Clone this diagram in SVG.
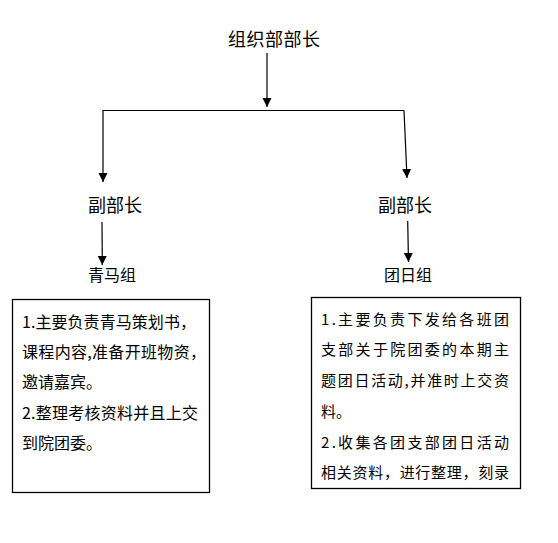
<svg xmlns="http://www.w3.org/2000/svg" width="558" height="543" viewBox="0 0 558 543">
<style>
.t{font-family:"Noto Sans CJK SC","Liberation Sans",sans-serif;fill:#000}
.h{font-size:18px}
.g{font-size:16px}
.b{font-size:16px}
.r{font-size:15px}
.box{fill:#fff;stroke:#000;stroke-width:1.3}
.c{stroke:#000;stroke-width:1.2;fill:none}
</style>
<defs>
<marker id="ah" markerUnits="userSpaceOnUse" markerWidth="10" markerHeight="10" refX="9" refY="4.5" orient="auto">
<path d="M0,0 L9,4.5 L0,9 z" fill="#000"/>
</marker>
</defs>
<rect width="558" height="543" fill="#fff"/>
<g id="connectors">
<line class="c" x1="267" y1="53" x2="267" y2="107" marker-end="url(#ah)"/>
<polyline class="c" points="404,110.5 103,110.5 103,182" marker-end="url(#ah)"/>
<line class="c" x1="404" y1="110.5" x2="407" y2="178" marker-end="url(#ah)"/>
<line class="c" x1="102" y1="222" x2="102.3" y2="265" marker-end="url(#ah)"/>
<line class="c" x1="407.7" y1="221" x2="408.5" y2="262" marker-end="url(#ah)"/>
</g>
<g id="n_head"><text class="t h" x="228" y="46" textLength="92">组织部部长</text></g>
<g id="n_vice1"><text class="t h" x="88" y="212">副部长</text></g>
<g id="n_vice2"><text class="t h" x="378" y="212">副部长</text></g>
<g id="n_qm"><text class="t g" x="88" y="281">青马组</text></g>
<g id="n_tr"><text class="t g" x="384" y="281">团日组</text></g>
<g id="n_box1">
<rect class="box" x="12.5" y="299.5" width="197" height="193"/>
<text class="t b" x="22" y="328" textLength="174" lengthAdjust="spacing">1.主要负责青马策划书，</text>
<text class="t b" x="22" y="358" textLength="184" lengthAdjust="spacing">课程内容,准备开班物资，</text>
<text class="t b" x="22" y="388">邀请嘉宾。</text>
<text class="t b" x="22" y="419" textLength="176" lengthAdjust="spacing">2.整理考核资料并且上交</text>
<text class="t b" x="22" y="449">到院团委。</text>
</g>
<g id="n_box2">
<rect class="box" x="311.5" y="297.5" width="209" height="191"/>
<text class="t r" x="321" y="325" textLength="188" lengthAdjust="spacing">1.主要负责下发给各班团</text>
<text class="t r" x="321" y="355" textLength="188" lengthAdjust="spacing">支部关于院团委的本期主</text>
<text class="t r" x="321" y="386" textLength="188" lengthAdjust="spacing">题团日活动,并准时上交资</text>
<text class="t r" x="321" y="417">料。</text>
<text class="t r" x="321" y="448" textLength="188" lengthAdjust="spacing">2.收集各团支部团日活动</text>
<text class="t r" x="321" y="478" textLength="188" lengthAdjust="spacing">相关资料，进行整理，刻录</text>
</g>
</svg>
